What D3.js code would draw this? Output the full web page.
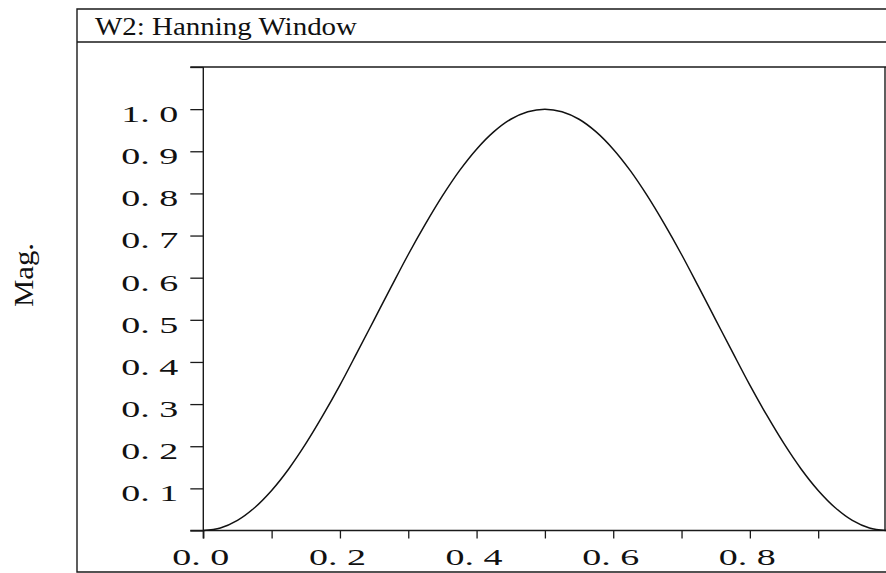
<!DOCTYPE html>
<html>
<head>
<meta charset="utf-8">
<script src="https://cdn.jsdelivr.net/npm/d3@7"></script>
<style>
  html, body { margin: 0; padding: 0; background: #fff; }
  svg { display: block; }
  text { font-family: "Liberation Serif", "Times New Roman", serif; fill: #111; }
</style>
</head>
<body>
<svg id="chart" width="886" height="573"></svg>
<script>
// Window position (fraction of the window length) and magnitude samples
const positions = [0, 0.025, 0.05, 0.075, 0.1, 0.125, 0.15, 0.175, 0.2, 0.225,
  0.25, 0.275, 0.3, 0.325, 0.35, 0.375, 0.4, 0.425, 0.45, 0.475, 0.5,
  0.525, 0.55, 0.575, 0.6, 0.625, 0.65, 0.675, 0.7, 0.725, 0.75,
  0.775, 0.8, 0.825, 0.85, 0.875, 0.9, 0.925, 0.95, 0.975, 1];
const magnitudes = [0, 0.006, 0.024, 0.054, 0.095, 0.146, 0.206, 0.273, 0.345, 0.422,
  0.5, 0.578, 0.655, 0.727, 0.794, 0.854, 0.905, 0.946, 0.976, 0.994, 1.0,
  0.994, 0.976, 0.946, 0.905, 0.854, 0.794, 0.727, 0.655, 0.578, 0.5,
  0.422, 0.345, 0.273, 0.206, 0.146, 0.095, 0.054, 0.024, 0.006, 0];

const xTicks = [0, 0.1, 0.2, 0.3, 0.4, 0.5, 0.6, 0.7, 0.8, 0.9];
const xTickLabels = ["0. 0", "", "0. 2", "", "0. 4", "", "0. 6", "", "0. 8", ""];
const yTicks = [0, 0.1, 0.2, 0.3, 0.4, 0.5, 0.6, 0.7, 0.8, 0.9, 1.0, 1.1];
const yTickLabels = ["", "0. 1", "0. 2", "0. 3", "0. 4", "0. 5", "0. 6", "0. 7", "0. 8", "0. 9", "1. 0", ""];
const title = "W2: Hanning Window";
const yTitle = "Mag.";

const svg = d3.select("#chart");
const ink = "#1a1a1a";

const x = d3.scaleLinear().domain([0, 1]).range([203.3, 886.5]);
const y = d3.scaleLinear().domain([0, 1.1]).range([530.5, 67]);

// Outer panel frame and title band
svg.append("path")
  .attr("d", "M886,9 H77 V572 H886")
  .attr("fill", "none").attr("stroke", ink).attr("stroke-width", 1.4);
svg.append("line")
  .attr("x1", 77).attr("x2", 886).attr("y1", 42).attr("y2", 42)
  .attr("stroke", ink).attr("stroke-width", 1.4);
svg.append("text")
  .attr("x", 95).attr("y", 35)
  .attr("font-size", 25)
  .attr("textLength", 262).attr("lengthAdjust", "spacingAndGlyphs")
  .text(title);

// Y axis
const yAxis = d3.axisLeft(y)
  .tickValues(yTicks)
  .tickSize(13)
  .tickFormat((d, i) => yTickLabels[i]);
const gy = svg.append("g")
  .attr("transform", `translate(${x(0)},0)`)
  .call(yAxis);
gy.select(".domain").remove();
gy.selectAll(".tick line").attr("stroke", ink).attr("stroke-width", 1.3);
gy.selectAll(".tick text")
  .attr("x", -25).attr("dy", "0.32em")
  .attr("transform", "translate(0,5)")
  .attr("font-size", 23)
  .attr("fill", ink)
  .attr("font-family", "Liberation Serif, serif")
  .attr("textLength", 57).attr("lengthAdjust", "spacingAndGlyphs");

// X axis
const xAxis = d3.axisBottom(x)
  .tickValues(xTicks)
  .tickSize(8)
  .tickFormat((d, i) => xTickLabels[i]);
const gx = svg.append("g")
  .attr("transform", `translate(0,${y(0)})`)
  .call(xAxis);
gx.select(".domain").remove();
gx.selectAll(".tick line").attr("stroke", ink).attr("stroke-width", 1.3);
gx.selectAll(".tick text")
  .attr("y", 0).attr("dy", 0)
  .attr("transform", "translate(-3,34.5)")
  .attr("font-size", 23)
  .attr("fill", ink)
  .attr("font-family", "Liberation Serif, serif")
  .attr("textLength", 57).attr("lengthAdjust", "spacingAndGlyphs");

// Plot frame: left axis runs slightly below the baseline, top line begins at the tick column
svg.append("line")
  .attr("x1", x(0)).attr("x2", x(0)).attr("y1", y(1.1)).attr("y2", y(0) + 8)
  .attr("stroke", ink).attr("stroke-width", 1.4);
svg.append("line")
  .attr("x1", x(0) - 13).attr("x2", 886).attr("y1", y(0)).attr("y2", y(0))
  .attr("stroke", ink).attr("stroke-width", 1.4);
svg.append("line")
  .attr("x1", x(0) - 13).attr("x2", 886).attr("y1", y(1.1)).attr("y2", y(1.1))
  .attr("stroke", ink).attr("stroke-width", 1.4);
svg.append("line")
  .attr("x1", 885).attr("x2", 885).attr("y1", y(1.1)).attr("y2", y(0))
  .attr("stroke", ink).attr("stroke-width", 1.4);

// Y title
svg.append("text")
  .attr("transform", "translate(33,275) rotate(-90)")
  .attr("text-anchor", "middle")
  .attr("font-size", 28)
  .attr("textLength", 64).attr("lengthAdjust", "spacingAndGlyphs")
  .text(yTitle);

// Window curve
const line = d3.line()
  .x((d, i) => x(positions[i]))
  .y(d => y(d))
  .curve(d3.curveCatmullRom);
svg.append("path")
  .datum(magnitudes)
  .attr("d", line)
  .attr("fill", "none")
  .attr("stroke", "#111")
  .attr("stroke-width", 1.5);
</script>
</body>
</html>
